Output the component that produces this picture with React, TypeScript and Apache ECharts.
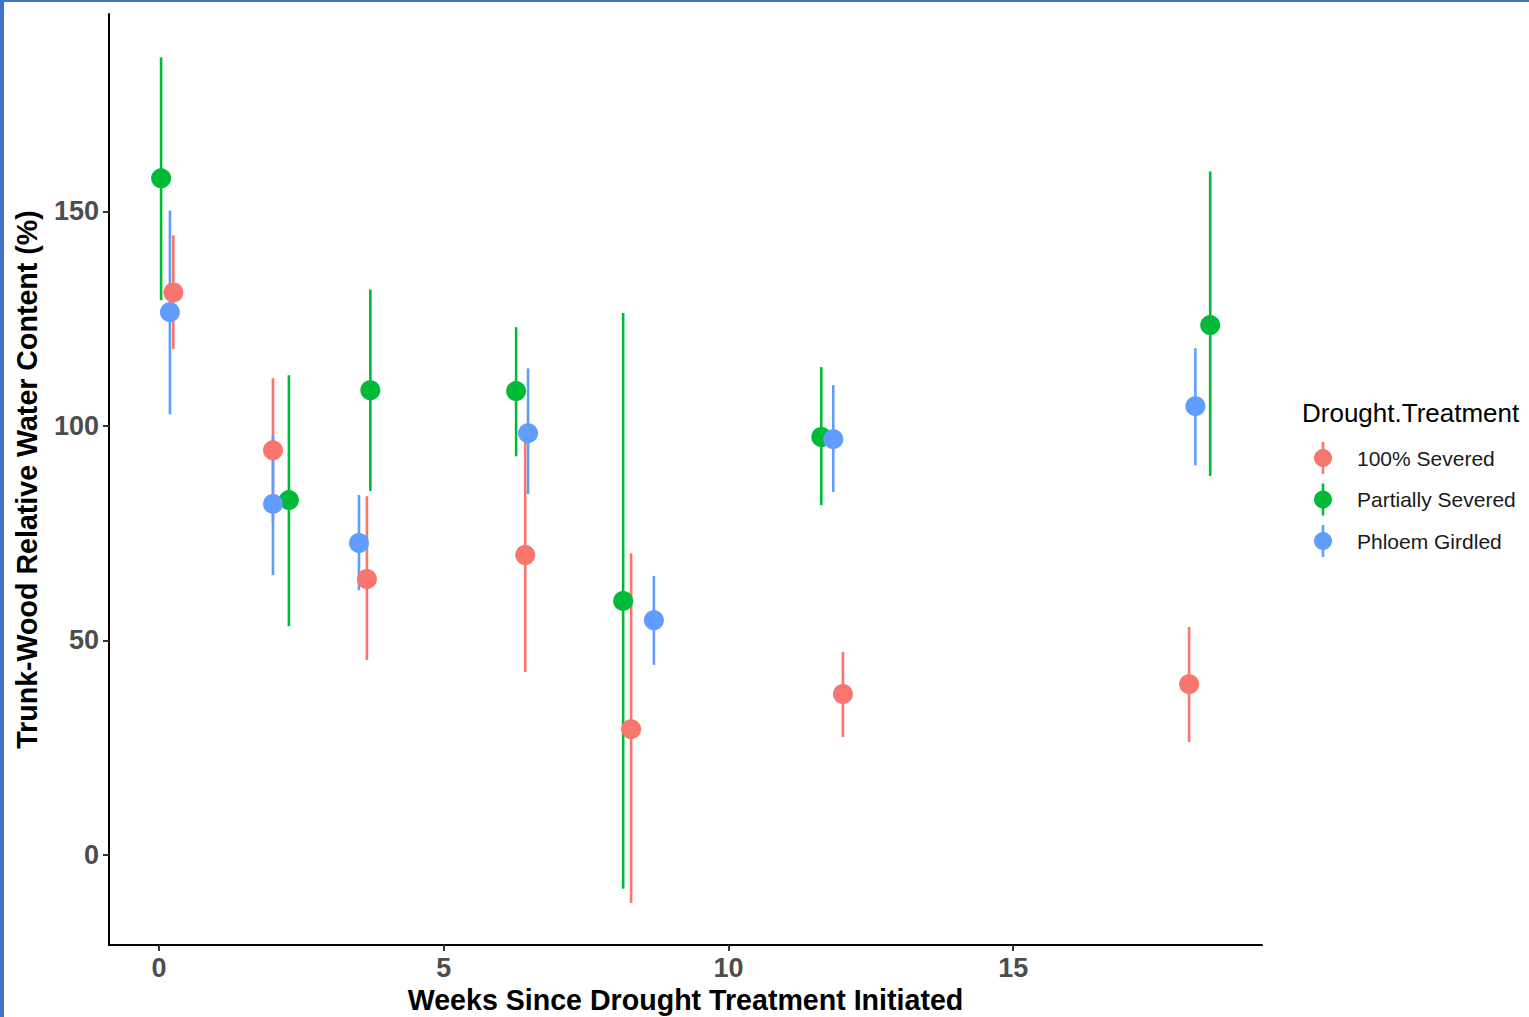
import React, { useEffect, useRef } from "react";
import * as echarts from "echarts";

const groups = ["100% Severed", "Partially Severed", "Phloem Girdled"];
const colors = ["#F8766D", "#00BA38", "#619CFF"];

const severedX = [0.25, 2.0, 3.65, 6.43, 8.29, 12.01, 18.09];
const severedY = [131.1, 94.3, 64.3, 69.9, 29.3, 37.5, 39.8];
const severedLow = [117.9, 77.6, 45.4, 42.6, -11.2, 27.5, 26.3];
const severedHigh = [144.4, 111.1, 83.6, 97.2, 70.3, 47.3, 53.1];

const partialX = [0.035, 2.28, 3.71, 6.27, 8.15, 11.63, 18.46];
const partialY = [157.7, 82.7, 108.3, 108.1, 59.2, 97.4, 123.5];
const partialLow = [129.3, 53.3, 84.8, 92.9, -7.9, 81.5, 88.3];
const partialHigh = [185.9, 111.8, 131.8, 123.0, 126.3, 113.7, 159.3];

const girdledX = [0.19, 2.0, 3.51, 6.48, 8.69, 11.84, 18.2];
const girdledY = [126.5, 81.8, 72.7, 98.3, 54.7, 96.9, 104.6];
const girdledLow = [102.7, 65.2, 61.7, 84.1, 44.3, 84.6, 90.8];
const girdledHigh = [150.2, 97.8, 83.9, 113.4, 65.0, 109.5, 118.1];

const xTicks = [0, 5, 10, 15];
const yTicks = [0, 50, 100, 150];

const allX = [severedX, partialX, girdledX];
const allY = [severedY, partialY, girdledY];
const allLow = [severedLow, partialLow, girdledLow];
const allHigh = [severedHigh, partialHigh, girdledHigh];

const FONT = "'Liberation Sans', Arial, sans-serif";

export default function App() {
  const ref = useRef<HTMLDivElement>(null);
  useEffect(() => {
    if (!ref.current) return;
    const chart = echarts.init(ref.current, null, { renderer: "svg" });
    const barSeries = groups.map((g, i) => ({
      name: g,
      type: "custom",
      data: allX[i].map((x, k) => [x, allLow[i][k], allHigh[i][k]]),
      encode: { x: 0, y: [1, 2] },
      z: 2,
      renderItem: (params: any, api: any) => {
        const p1 = api.coord([api.value(0), api.value(1)]);
        const p2 = api.coord([api.value(0), api.value(2)]);
        return {
          type: "line",
          shape: { x1: p1[0], y1: p1[1], x2: p2[0], y2: p2[1] },
          style: { stroke: colors[i], lineWidth: 2.6 },
        };
      },
    }));
    const pointSeries = groups.map((g, i) => ({
      name: g,
      type: "scatter",
      data: allX[i].map((x, k) => [x, allY[i][k]]),
      symbolSize: 20,
      itemStyle: { color: colors[i], opacity: 1 },
      z: 3,
    }));
    const legendItems: any[] = [];
    groups.forEach((g, i) => {
      const cy = 458 + i * 41.5;
      legendItems.push(
        { type: "line", shape: { x1: 1323, y1: cy - 16, x2: 1323, y2: cy + 16 }, style: { stroke: colors[i], lineWidth: 2.6 } },
        { type: "circle", shape: { cx: 1323, cy, r: 9 }, style: { fill: colors[i] } },
        {
          type: "text",
          x: 1357,
          y: cy,
          style: { text: g, font: `21px ${FONT}`, fill: "#1a1a1a", textVerticalAlign: "middle" },
        }
      );
    });
    chart.setOption({
      animation: false,
      backgroundColor: "#ffffff",
      grid: { left: 109, right: 267, top: 14, bottom: 72, containLabel: false, outerBoundsMode: "none" },
      xAxis: {
        type: "value",
        min: -0.88,
        max: 19.37,
        name: "Weeks Since Drought Treatment Initiated",
        nameLocation: "middle",
        nameGap: 40,
        nameTextStyle: { fontFamily: FONT, fontWeight: "bold", fontSize: 28.6, color: "#000" },
        splitLine: { show: false },
        axisLine: { show: true, onZero: false, lineStyle: { color: "#000", width: 2 } },
        axisTick: { show: true, length: 6, customValues: xTicks, lineStyle: { color: "#333", width: 2 } },
        axisLabel: {
          customValues: xTicks,
          fontFamily: FONT,
          fontWeight: "bold",
          fontSize: 27,
          color: "#4D4D4D",
          margin: 9,
        },
      },
      yAxis: {
        type: "value",
        min: -21,
        max: 196,
        name: "Trunk-Wood Relative Water Content (%)",
        nameLocation: "middle",
        nameGap: 68,
        nameTextStyle: { fontFamily: FONT, fontWeight: "bold", fontSize: 28.6, color: "#000" },
        splitLine: { show: false },
        axisLine: { show: true, onZero: false, lineStyle: { color: "#000", width: 2 } },
        axisTick: { show: true, length: 6, customValues: yTicks, lineStyle: { color: "#333", width: 2 } },
        axisLabel: {
          customValues: yTicks,
          fontFamily: FONT,
          fontWeight: "bold",
          fontSize: 27,
          color: "#4D4D4D",
          margin: 10,
        },
      },
      graphic: [
        { type: "rect", shape: { x: 0, y: 0, width: 4, height: 1017 }, style: { fill: "#4472C4" }, z: 100 },
        { type: "rect", shape: { x: 0, y: 0, width: 1529, height: 2 }, style: { fill: "#4472C4" }, z: 100 },
        {
          type: "text",
          x: 1302,
          y: 413,
          style: { text: "Drought.Treatment", font: `26px ${FONT}`, fill: "#000", textVerticalAlign: "middle" },
        },
        ...legendItems,
      ],
      series: [...barSeries, ...pointSeries],
    });
    return () => chart.dispose();
  }, []);
  return <div ref={ref} style={{ position: "fixed", left: 0, top: 0, width: 1529, height: 1017 }} />;
}
